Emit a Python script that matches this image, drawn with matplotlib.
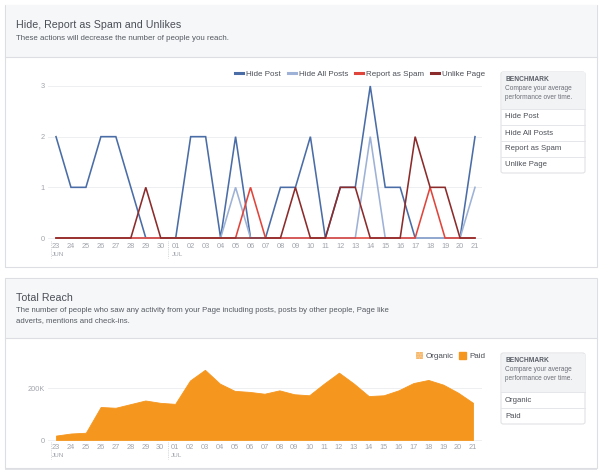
"""
Facebook-insights style panels: negative feedback lines + total reach area.
Output: out.png (600x473)
"""

import matplotlib
matplotlib.use("Agg")
import matplotlib.pyplot as plt
import matplotlib.patches as mpatches
from matplotlib.lines import Line2D
from matplotlib.transforms import blended_transform_factory

# ── Data ──────────────────────────────────────────────────────────────────────
DAYS = ["23", "24", "25", "26", "27", "28", "29", "30",
        "01", "02", "03", "04", "05", "06", "07", "08", "09", "10",
        "11", "12", "13", "14", "15", "16", "17", "18", "19", "20", "21"]
MONTHS = [("JUN", 0), ("JUL", 8)]

hide_post      = [2, 1, 1, 2, 2, 1, 0, 0, 0, 2, 2, 0, 2, 0, 0, 1, 1, 2,
                  0, 1, 1, 3, 1, 1, 0, 0, 0, 0, 2]
hide_all_posts = [0, 0, 0, 0, 0, 0, 0, 0, 0, 0, 0, 0, 1, 0, 0, 0, 0, 0,
                  0, 0, 0, 2, 0, 0, 0, 0, 0, 0, 1]
report_spam    = [0, 0, 0, 0, 0, 0, 0, 0, 0, 0, 0, 0, 0, 1, 0, 0, 0, 0,
                  0, 0, 0, 0, 0, 0, 0, 1, 0, 0, 0]
unlike_page    = [0, 0, 0, 0, 0, 0, 1, 0, 0, 0, 0, 0, 0, 0, 0, 0, 1, 0,
                  0, 1, 1, 0, 0, 0, 2, 1, 1, 0, 0]

# total reach (thousands)
reach_paid = [17, 25, 28, 127, 124, 138, 152, 143, 139, 229, 270, 217, 189,
              185, 178, 191, 176, 172, 217, 259, 217, 169, 172, 191, 219,
              231, 213, 182, 143]

LINE_SERIES = [
    ("Hide Post",      hide_post,      "#4a6da7"),
    ("Hide All Posts", hide_all_posts, "#9db2d6"),
    ("Report as Spam", report_spam,    "#e0453b"),
    ("Unlike Page",    unlike_page,    "#8c2b2b"),
]

# ── Styling ───────────────────────────────────────────────────────────────────
W, H = 600, 473
FONT = ["Liberation Sans", "DejaVu Sans"]
TEXT_DARK = "#4b4f56"
TICK_GRAY = "#a0a4ab"
BORDER    = "#dcdee3"
HEAD_BG   = "#f6f7f9"
ORANGE    = "#f5961f"
ORANGE_LT = "#f9c98b"

plt.rcParams["font.family"] = FONT


def fx(x):
    return x / W


def fy(y):
    return 1 - y / H


def box(x0, y0, x1, y1):
    return [fx(x0), fy(y1), (x1 - x0) / W, (y1 - y0) / H]


def lims(p_lo, p_hi, v0, pv0, v1, pv1):
    """Data limits for pixel span [p_lo, p_hi] given two anchor pixels."""
    s = (pv1 - pv0) / (v1 - v0)
    return v0 + (p_lo - pv0) / s, v0 + (p_hi - pv0) / s


def panel(fig, x0, y0, x1, y1, head_y):
    fig.patches.append(mpatches.Rectangle(
        (fx(x0), fy(y1) - 1.5 / H), (x1 - x0) / W, (y1 - y0) / H,
        transform=fig.transFigure, facecolor="#e3e4e7", edgecolor="none",
        zorder=0))
    fig.patches.append(mpatches.Rectangle(
        (fx(x0), fy(y1)), (x1 - x0) / W, (y1 - y0) / H,
        transform=fig.transFigure, facecolor="white", edgecolor=BORDER,
        linewidth=0.8, zorder=0))
    fig.patches.append(mpatches.Rectangle(
        (fx(x0 + 0.5), fy(head_y)), (x1 - x0 - 1) / W, (head_y - y0 - 0.5) / H,
        transform=fig.transFigure, facecolor=HEAD_BG, edgecolor="none",
        zorder=0))
    fig.add_artist(Line2D([fx(x0), fx(x1)], [fy(head_y), fy(head_y)],
                          color=BORDER, linewidth=0.8, zorder=0.5))


def benchmark(fig, x0, y0, x1, head_y, rows, row_h=16):
    y1 = head_y + row_h * len(rows)
    fig.patches.append(mpatches.FancyBboxPatch(
        (fx(x0), fy(y1)), (x1 - x0) / W, (y1 - y0) / H,
        boxstyle="round,pad=0,rounding_size=0.004",
        transform=fig.transFigure, facecolor="white", edgecolor="#e1e2e5",
        linewidth=0.8, zorder=1))
    fig.patches.append(mpatches.Rectangle(
        (fx(x0 + 0.5), fy(head_y)), (x1 - x0 - 1) / W, (head_y - y0 - 0.5) / H,
        transform=fig.transFigure, facecolor="#f2f3f5", edgecolor="none",
        zorder=1))
    fig.text(fx(x0 + 4), fy(y0 + 7.5), "BENCHMARK", fontsize=4.8,
             fontweight="bold", color="#5a5e66", va="center", zorder=3)
    fig.text(fx(x0 + 4), fy(y0 + 16.5), "Compare your average", fontsize=4.7,
             color="#6a6e76", va="center", zorder=3)
    fig.text(fx(x0 + 4), fy(y0 + 25.5), "performance over time.", fontsize=4.7,
             color="#6a6e76", va="center", zorder=3)
    for i, r in enumerate(rows):
        ry = head_y + i * row_h
        fig.add_artist(Line2D([fx(x0), fx(x1)], [fy(ry), fy(ry)],
                              color="#e5e6e9", linewidth=0.7, zorder=3))
        fig.text(fx(x0 + 4), fy(ry + row_h / 2), r, fontsize=5.6,
                 color=TEXT_DARK, va="center", zorder=3)


def date_axis(ax, height_px):
    """Day ticks, month labels and dotted month separators under the axes."""
    ax.set_zorder(2)
    ax.set_xticks(range(len(DAYS)))
    ax.set_xticklabels(DAYS)
    ax.tick_params(axis="both", length=0, labelsize=5.3, labelcolor=TICK_GRAY,
                   pad=2.2)
    for s in ax.spines.values():
        s.set_visible(False)
    ax.set_axisbelow(True)
    ax.grid(axis="y", color="#eeeff1", linewidth=0.7)
    tr = blended_transform_factory(ax.transData, ax.transAxes)
    px = 1.0 / height_px
    for x in [-0.35, MONTHS[1][1] - 0.5]:
        ax.plot([x, x], [-1 * px, -18 * px], transform=tr, color="#c8cbd0",
                linewidth=0.6, linestyle=(0, (1, 1.2)), clip_on=False)
    for name, i in MONTHS:
        ax.text(i - 0.28, -14 * px, name, transform=tr, fontsize=4.6,
                color=TICK_GRAY, ha="left", va="center")


# ── Figure ────────────────────────────────────────────────────────────────────
fig = plt.figure(figsize=(W / 100, H / 100), dpi=100, facecolor="white")

# ── Panel 1: negative feedback ────────────────────────────────────────────────
panel(fig, 5, 5, 597, 267, 57)
fig.text(fx(16), fy(25), "Hide, Report as Spam and Unlikes", fontsize=7.7,
         color=TEXT_DARK, va="center")
fig.text(fx(16), fy(38.5),
         "These actions will decrease the number of people you reach.",
         fontsize=5.7, color="#555a61", va="center")

ax1 = fig.add_axes(box(48, 80, 482, 240), facecolor="none")
for label, vals, col in LINE_SERIES:
    ax1.plot(range(len(DAYS)), vals, color=col, linewidth=1.15,
             label=label, solid_joinstyle="miter")
ax1.set_xlim(*lims(48, 482, 0, 56, 28, 475))
ax1.set_ylim(*lims(240, 80, 0, 238, 3, 86))
ax1.set_yticks([0, 1, 2, 3])
date_axis(ax1, 160)

leg1 = [Line2D([0], [0], color=c, linewidth=2.2, label=l)
        for l, _, c in LINE_SERIES]
lg = fig.legend(handles=leg1, loc="center right",
                bbox_to_anchor=(fx(485), fy(74)), ncol=4, frameon=False,
                fontsize=5.8, labelcolor=TEXT_DARK, handlelength=1.0,
                handletextpad=0.37, columnspacing=0.85, borderaxespad=0,
                borderpad=0)
lg.set_zorder(5)

benchmark(fig, 501, 72, 585, 109,
          ["Hide Post", "Hide All Posts", "Report as Spam", "Unlike Page"])

# ── Panel 2: total reach ──────────────────────────────────────────────────────
panel(fig, 5, 278, 597, 468, 338)
fig.text(fx(16), fy(298), "Total Reach", fontsize=7.7, color=TEXT_DARK,
         va="center")
fig.text(fx(16), fy(310),
         "The number of people who saw any activity from your Page including "
         "posts, posts by other people, Page like", fontsize=5.6,
         color="#555a61", va="center")
fig.text(fx(16), fy(321), "adverts, mentions and check-ins.", fontsize=5.6,
         color="#555a61", va="center")

ax2 = fig.add_axes(box(48, 350, 482, 441), facecolor="none")
ax2.fill_between(range(len(DAYS)), reach_paid, 0, color=ORANGE,
                 linewidth=0.6, edgecolor=ORANGE)
ax2.set_xlim(*lims(48, 482, 0, 56, 28, 473))
ax2.set_ylim(*lims(441, 350, 0, 440, 200, 388))
ax2.set_yticks([0, 200])
ax2.set_yticklabels(["0", "200K"])
date_axis(ax2, 91)

leg2 = [mpatches.Patch(facecolor=ORANGE_LT, edgecolor="#f4b060",
                       hatch="......", linewidth=0, label="Organic"),
        mpatches.Patch(facecolor=ORANGE, edgecolor=ORANGE, label="Paid")]
lg2 = fig.legend(handles=leg2, loc="center right",
                 bbox_to_anchor=(fx(485), fy(356)), ncol=2, frameon=False,
                 fontsize=5.8, labelcolor=TEXT_DARK, handlelength=0.9,
                 handleheight=0.9, handletextpad=0.35, columnspacing=0.6,
                 borderaxespad=0, borderpad=0)
lg2.set_zorder(5)

benchmark(fig, 501, 353, 585, 392, ["Organic", "Paid"])

fig.savefig("out.png", dpi=100, facecolor="white")
